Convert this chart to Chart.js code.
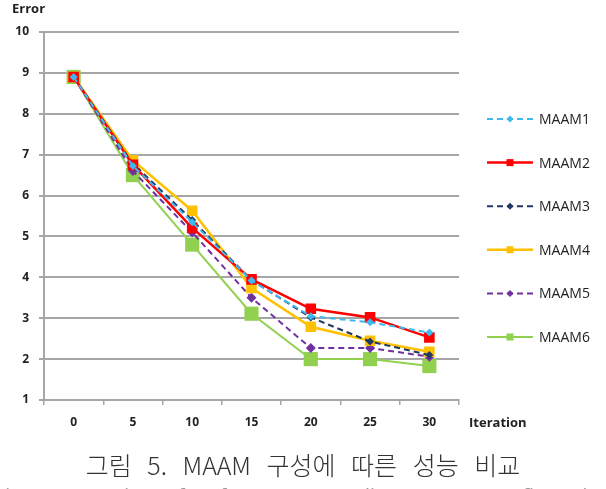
<!DOCTYPE html>
<html><head><meta charset="utf-8">
<script src="https://cdn.jsdelivr.net/npm/chart.js@4.4.0/dist/chart.umd.min.js"></script>
<style>html,body{margin:0;padding:0;background:#fff;}#c{display:block;}</style>
</head><body>
<canvas id="c" width="606" height="489"></canvas>
<script>
const iterations = ['0','5','10','15','20','25','30'];
const maam1 = [8.9, 6.72, 5.35, 3.92, 3.05, 2.9, 2.65];
const maam2 = [8.9, 6.75, 5.21, 3.95, 3.23, 3.02, 2.53];
const maam3 = [8.9, 6.78, 5.4, 3.93, 3.02, 2.43, 2.1];
const maam4 = [8.9, 6.86, 5.63, 3.74, 2.79, 2.45, 2.18];
const maam5 = [8.9, 6.6, 5.1, 3.5, 2.27, 2.27, 2.06];
const maam6 = [8.9, 6.5, 4.8, 3.11, 2.0, 2.0, 1.83];
const seriesNames = ['MAAM1','MAAM2','MAAM3','MAAM4','MAAM5','MAAM6'];
const yTicks = [1,2,3,4,5,6,7,8,9,10];
const yTitle = 'Error';
const xTitle = 'Iteration';
const caption = '그림 5. MAAM 구성에 따른 성능 비교';
const captionEn = 'Fig. 5. Comparison of performance according to MAAM configuration';

const styles = [
  {c:'#3db9ef', dash:[6,4], ps:'rectRot', r:4, w:2},
  {c:'#ff0000', dash:[], ps:'rect', r:7.5, w:2.5},
  {c:'#1f3864', dash:[6,4], ps:'rectRot', r:4, w:2},
  {c:'#ffc000', dash:[], ps:'rect', r:7.5, w:2.5},
  {c:'#7030a0', dash:[6,4], ps:'rectRot', r:5, w:2},
  {c:'#92d050', dash:[], ps:'rect', r:10, w:2}
];
const values = [maam1, maam2, maam3, maam4, maam5, maam6];

const datasets = values.map((v,i)=>({
  label: seriesNames[i], data: v,
  borderColor: styles[i].c, backgroundColor: styles[i].c,
  borderDash: styles[i].dash, borderWidth: styles[i].w,
  pointStyle: styles[i].ps, pointRadius: styles[i].r, pointHoverRadius: styles[i].r,
  pointBorderWidth: 0, tension: 0, fill: false
}));

const boldFont = {family: '"Open Sans", "Liberation Sans", sans-serif', size: 12, weight: 'bold'};

const extras = {
  id: 'extras',
  afterDraw(chart){
    const ctx = chart.ctx, a = chart.chartArea;
    ctx.save();
    ctx.fillStyle = '#222';
    ctx.font = 'bold 13px "Open Sans", "Liberation Sans", sans-serif';
    ctx.textBaseline = 'middle';
    ctx.textAlign = 'left';
    ctx.fillText(yTitle, 12, 9);
    ctx.fillText(xTitle, a.right + 10, 423);
    // legend
    ctx.font = '14px "Open Sans", "Liberation Sans", sans-serif';
    chart.data.datasets.forEach((ds,i)=>{
      const y = 119 + i*43.6;
      ctx.save();
      ctx.strokeStyle = ds.borderColor;
      ctx.lineWidth = ds.borderWidth;
      ctx.setLineDash(ds.borderDash);
      ctx.beginPath(); ctx.moveTo(487, y); ctx.lineTo(533, y); ctx.stroke();
      ctx.restore();
      const isRect = ds.pointStyle === 'rect';
      ctx.fillStyle = ds.borderColor;
      ctx.beginPath();
      if (isRect) { ctx.fillRect(510-3.5, y-3.5, 7, 7); }
      else { ctx.moveTo(510, y-3.5); ctx.lineTo(513.5, y); ctx.lineTo(510, y+3.5); ctx.lineTo(506.5, y); ctx.closePath(); ctx.fill(); }
      ctx.fillStyle = '#222';
      ctx.fillText(ds.label, 539, y+1);
    });
    // caption
    ctx.fillStyle = '#333';
    ctx.textAlign = 'center';
    ctx.font = '300 25px "Noto Sans CJK KR", sans-serif';
    ctx.wordSpacing = '10px';
    ctx.fillText(caption, 303, 465);
    ctx.wordSpacing = '0px';
    ctx.fillStyle = '#999';
    ctx.font = '19px "Noto Sans", sans-serif';
    ctx.fillText(captionEn, 303, 498);
    ctx.restore();
  }
};

new Chart(document.getElementById('c'), {
  type: 'line',
  data: {labels: iterations, datasets},
  options: {
    responsive: false, animation: false, devicePixelRatio: 1,
    layout: {padding: {left: 0, top: 32, right: 147, bottom: 0}},
    plugins: {legend: {display: false}, tooltip: {enabled: false}},
    scales: {
      x: {
        offset: true,
        grid: {drawOnChartArea: false, offset: true, drawTicks: true, tickLength: 5, tickColor: '#a6a6a6', lineWidth: 1.5},
        border: {color: '#a6a6a6', width: 2},
        ticks: {color: '#222', font: boldFont, padding: 10, maxRotation: 0},
        afterFit(s){ s.height = 89; }
      },
      y: {
        min: 1, max: 10,
        afterBuildTicks(s){ s.ticks = yTicks.map(v=>({value:v})); },
        grid: {color: '#a6a6a6', lineWidth: 2, tickLength: 5, tickColor: '#a6a6a6'},
        border: {color: '#a6a6a6', width: 2},
        ticks: {color: '#222', font: boldFont, padding: 10},
        afterFit(s){ s.width = 44; }
      }
    }
  },
  plugins: [extras]
});
</script>
</body></html>
